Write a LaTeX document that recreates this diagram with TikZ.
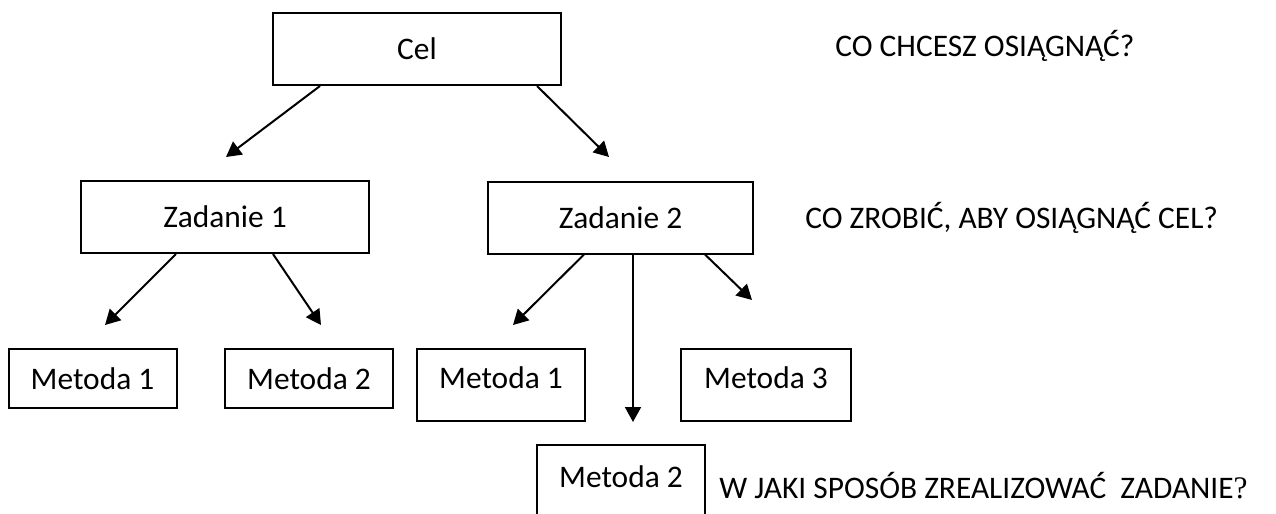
\documentclass[tikz,border=0pt]{standalone}
\usepackage{fontspec}
\setmainfont{Carlito}
\newfontfamily\qmarkfont{Liberation Serif}
\usetikzlibrary{positioning, arrows.meta}

\begin{document}
\begin{tikzpicture}[
    x=0.5pt, y=-0.5pt,
    every node/.style={font=\fontsize{15.7}{19}\selectfont},
    box/.style={rectangle, draw, line width=1pt, inner sep=0pt},
    celbox/.style={box, minimum width=144pt, minimum height=36pt},
    metbox/.style={box, minimum width=84pt, minimum height=36pt},
    question/.style={anchor=west, inner sep=0pt},
    arr/.style={line width=1pt, -{Triangle[length=7.5pt, width=8pt]}}
]
\useasboundingbox (0,0) rectangle (1276,514);

\node[celbox] (cel) at (417, 49) {Cel};
\node[celbox] (zad1) at (225, 217) {Zadanie 1};
\node[celbox, minimum width=132.5pt] (zad2) at (620.5, 217.5) {Zadanie 2};

\node[metbox, minimum height=29.5pt] (met11) at (92.5, 378.5) {Metoda 1};
\node[metbox, minimum height=29.5pt] (met12) at (309, 378.5) {Metoda 2};
\node[metbox, text depth=7pt] (met21) at (501, 385) {Metoda 1};
\node[metbox, text depth=7pt, minimum width=85pt] (met23) at (766, 385) {Metoda 3};
\node[metbox, text depth=4pt] (met22) at (621, 481) {Metoda 2};

\node[question] (q1) at (835, 46) {CO CHCESZ OSIĄGNĄĆ?};
\node[question] (q2) at (805, 218) {CO ZROBIĆ, ABY OSIĄGNĄĆ CEL?};
\node[question] (q3) at (719, 486) {W JAKI SPOSÓB ZREALIZOWAĆ\ \ ZADANIE{\qmarkfont ?}};

% arrow tips (free ends)
\coordinate (t1) at (226, 157);
\coordinate (t2) at (609, 157);
\coordinate (t11) at (105, 325);
\coordinate (t12) at (321, 325);
\coordinate (t21) at (513, 325);
\coordinate (t22) at (633, 422);
\coordinate (t23) at (752, 300);

\draw[arr] (cel.south -| 320,0) -- (t1);
\draw[arr] (cel.south -| 537,0) -- (t2);
\draw[arr] (zad1.south -| 176,0) -- (t11);
\draw[arr] (zad1.south -| 273,0) -- (t12);
\draw[arr] (zad2.south -| 584,0) -- (t21);
\draw[arr] (zad2.south -| 633,0) -- (t22);
\draw[arr] (zad2.south -| 705,0) -- (t23);

\end{tikzpicture}
\end{document}
